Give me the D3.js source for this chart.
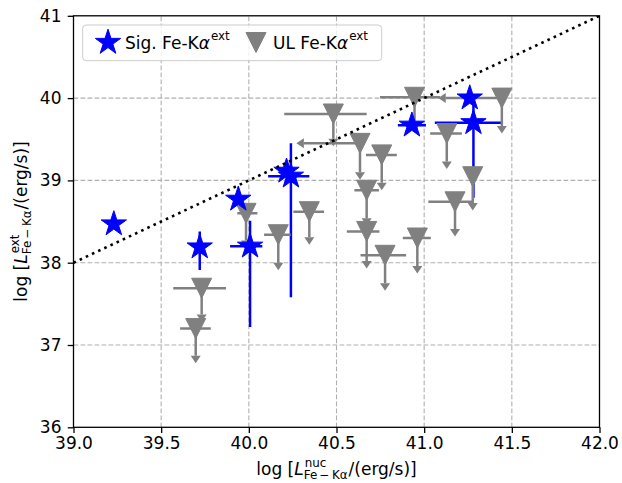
<!DOCTYPE html>
<html>
<head>
<meta charset="utf-8">
<script src="https://cdn.jsdelivr.net/npm/d3@7"></script>
<style>
body { margin: 0; background: #fff; }
text { font-family: "DejaVu Sans", sans-serif; fill: #000; }
</style>
</head>
<body>
<svg id="chart" width="622" height="483"></svg>
<script>
var width = 622, height = 483

// significant extended Fe-Ka detections
var sigX     = [39.23, 39.72, 39.94, 40.007, 40.215, 40.24, 40.93, 41.26, 41.281]
var sigY     = [38.47, 38.19, 38.77, 38.20, 39.11, 39.05, 39.67, 40.00, 39.70]
var sigXLo   = [0, 0, 0, 0.114, 0, 0.13, 0.08, 0, 0.22]
var sigXHi   = [0, 0, 0, 0.07, 0, 0.105, 0.08, 0, 0.16]
var sigYLo   = [0, 0.28, 0, 0.98, 0, 1.47, 0, 0, 0.91]
var sigYHi   = [0, 0.19, 0, 0.31, 0, 0.40, 0, 0, 0.25]

// upper limits
var ulX      = [40.482, 40.634, 40.758, 40.672, 40.672, 40.777, 40.961, 41.176, 41.277, 41.129, 41.443, 40.945, 39.984, 40.168, 40.345, 39.731, 39.697]
var ulY      = [39.807, 39.45, 39.31, 38.88, 38.38, 38.09, 38.30, 38.74, 39.045, 39.57, 40.00, 40.01, 38.60, 38.34, 38.62, 37.69, 37.20]
var ulXLo    = [0.28, 0, 0.09, 0.07, 0.113, 0.14, 0.083, 0.152, 0, 0.095, 0, 0.197, 0.05, 0.081, 0.091, 0.162, 0.089]
var ulXHi    = [0.19, 0, 0.086, 0.07, 0.073, 0.12, 0.077, 0.10, 0, 0.086, 0, 0.145, 0.065, 0.071, 0.084, 0.139, 0.086]
var ulXLim   = [0, 0.32, 0, 0, 0, 0, 0, 0, 0, 0, 0.32, 0, 0, 0, 0, 0, 0]
var ulYArrow = [0.30, 0.35, 0.34, 0.34, 0.36, 0.34, 0.34, 0.33, 0.32, 0.34, 0.34, 0.33, 0.33, 0.34, 0.31, 0.32, 0.33]

// one-to-one line
var lineX = [39, 42]
var lineY = [38, 41]

var xTicks = [39.0, 39.5, 40.0, 40.5, 41.0, 41.5, 42.0]
var yTicks = [36, 37, 38, 39, 40, 41]

var x = d3.scaleLinear().domain([39, 42]).range([73.5, 599.5])
var y = d3.scaleLinear().domain([36, 41]).range([427.3, 15.8])

var svg = d3.select('#chart')
var blue = '#0000ff', gray = '#808080'

svg.append('defs').append('clipPath').attr('id', 'plotclip')
  .append('rect').attr('x', x(39)).attr('y', y(41))
  .attr('width', x(42) - x(39)).attr('height', y(36) - y(41))

// grid
var grid = svg.append('g').attr('stroke', '#b0b0b0').attr('stroke-width', 1.1).attr('stroke-dasharray', '4.8,2.2')
grid.selectAll('.gx').data(xTicks.slice(1, -1)).enter().append('line')
  .attr('x1', d => x(d)).attr('x2', d => x(d)).attr('y1', y(36)).attr('y2', y(41))
grid.selectAll('.gy').data(yTicks.slice(1, -1)).enter().append('line')
  .attr('y1', d => y(d)).attr('y2', d => y(d)).attr('x1', x(39)).attr('x2', x(42))

var plot = svg.append('g').attr('clip-path', 'url(#plotclip)')

// error lines of the detections
var sigIdx = d3.range(sigX.length)
plot.selectAll('.sv').data(sigIdx.filter(i => sigYLo[i] + sigYHi[i] > 0)).enter().append('line')
  .attr('x1', i => x(sigX[i])).attr('x2', i => x(sigX[i]))
  .attr('y1', i => y(sigY[i] - sigYLo[i])).attr('y2', i => y(sigY[i] + sigYHi[i]))
  .attr('stroke', blue).attr('stroke-width', 2.5)
plot.selectAll('.sh').data(sigIdx.filter(i => sigXLo[i] + sigXHi[i] > 0)).enter().append('line')
  .attr('y1', i => y(sigY[i])).attr('y2', i => y(sigY[i]))
  .attr('x1', i => x(sigX[i] - sigXLo[i])).attr('x2', i => x(sigX[i] + sigXHi[i]))
  .attr('stroke', blue).attr('stroke-width', 2.5)

// upper limit error lines and arrows
var ulIdx = d3.range(ulX.length)
plot.selectAll('.uh').data(ulIdx.filter(i => ulXLo[i] + ulXHi[i] > 0)).enter().append('line')
  .attr('y1', i => y(ulY[i])).attr('y2', i => y(ulY[i]))
  .attr('x1', i => x(ulX[i] - ulXLo[i])).attr('x2', i => x(ulX[i] + ulXHi[i]))
  .attr('stroke', gray).attr('stroke-width', 2.5)
plot.selectAll('.ul').data(ulIdx.filter(i => ulXLim[i] > 0)).enter().append('line')
  .attr('y1', i => y(ulY[i])).attr('y2', i => y(ulY[i]))
  .attr('x1', i => x(ulX[i] - ulXLim[i])).attr('x2', i => x(ulX[i]))
  .attr('stroke', gray).attr('stroke-width', 2.5)
plot.selectAll('.ula').data(ulIdx.filter(i => ulXLim[i] > 0)).enter().append('path')
  .attr('transform', i => 'translate(' + x(ulX[i] - ulXLim[i]) + ',' + y(ulY[i]) + ')')
  .attr('d', 'M0,-5L-7.5,0L0,5Z').attr('fill', gray)
plot.selectAll('.uv').data(ulIdx).enter().append('line')
  .attr('x1', i => x(ulX[i])).attr('x2', i => x(ulX[i]))
  .attr('y1', i => y(ulY[i])).attr('y2', i => y(ulY[i] - ulYArrow[i]))
  .attr('stroke', gray).attr('stroke-width', 2.5)
plot.selectAll('.uva').data(ulIdx).enter().append('path')
  .attr('transform', i => 'translate(' + x(ulX[i]) + ',' + y(ulY[i] - ulYArrow[i]) + ')')
  .attr('d', 'M-5,0L5,0L0,7.5Z').attr('fill', gray)

// markers
var triPath = 'M-10,-10L10,-10L0,10Z'
var starPath = d3.symbol(d3.symbolStar, 199)()
plot.selectAll('.ut').data(ulIdx).enter().append('path')
  .attr('transform', i => 'translate(' + x(ulX[i]) + ',' + y(ulY[i]) + ')')
  .attr('d', triPath).attr('fill', gray).attr('stroke', gray).attr('stroke-width', 1)
plot.selectAll('.ss').data(sigIdx).enter().append('path')
  .attr('transform', i => 'translate(' + x(sigX[i]) + ',' + y(sigY[i]) + ')')
  .attr('d', starPath).attr('fill', blue).attr('stroke', blue).attr('stroke-width', 1)

// 1:1 line
plot.append('path')
  .attr('d', d3.line().x(d => x(d[0])).y(d => y(d[1]))(d3.zip(lineX, lineY)))
  .attr('fill', 'none').attr('stroke', '#000').attr('stroke-width', 2.6).attr('stroke-dasharray', '2.6,4.2')

// axes
var xAxis = svg.append('g').attr('transform', 'translate(0,' + y(36) + ')')
  .call(d3.axisBottom(x).tickValues(xTicks).tickFormat(d3.format('.1f')).tickSize(5.8).tickPadding(4.2))
var yAxis = svg.append('g').attr('transform', 'translate(' + x(39) + ',0)')
  .call(d3.axisLeft(y).tickValues(yTicks).tickFormat(d3.format('d')).tickSize(5.8).tickPadding(6.2))
;[xAxis, yAxis].forEach(function(a) {
  a.select('.domain').remove()
  a.selectAll('line').attr('stroke', '#000').attr('stroke-width', 1.3)
  a.selectAll('text').style('font-size', '17px')
})

svg.append('rect').attr('x', x(39)).attr('y', y(41))
  .attr('width', x(42) - x(39)).attr('height', y(36) - y(41))
  .attr('fill', 'none').attr('stroke', '#000').attr('stroke-width', 1.3)

// mathtext-like labels
function mathText(g, pieces, fs) {
  var inner = g.append('g'), cx = 0, sfs = fs * 0.7
  pieces.forEach(function(p) {
    if (p.t !== undefined) {
      var t = inner.append('text').attr('x', cx).attr('y', 0).style('font-size', fs + 'px')
        .style('font-style', p.it ? 'italic' : 'normal').text(p.t)
      cx += t.node().getComputedTextLength()
    } else {
      var w = 0
      if (p.sup) {
        var s = inner.append('text').attr('x', cx + 1).attr('y', -fs * 0.5).style('font-size', sfs + 'px').text(p.sup)
        w = Math.max(w, s.node().getComputedTextLength() + 1)
      }
      if (p.sub) {
        var b = inner.append('text').attr('x', cx).attr('y', fs * 0.25).style('font-size', sfs + 'px').text(p.sub)
        w = Math.max(w, b.node().getComputedTextLength())
      }
      cx += w + 1
    }
  })
  return {g: inner, w: cx}
}

var sub = 'Fe\u2009\u2212\u2009K\u03b1'
var xl = mathText(svg.append('g').attr('transform', 'translate(336.5,475)'),
  [{t: 'log ['}, {t: 'L', it: true}, {sup: 'nuc', sub: sub}, {t: '/(erg/s)]'}], 17)
xl.g.attr('transform', 'translate(' + (-xl.w / 2) + ',0)')

var yl = mathText(svg.append('g').attr('transform', 'translate(27,221.5) rotate(-90)'),
  [{t: 'log ['}, {t: 'L', it: true}, {sup: 'ext', sub: sub}, {t: '/(erg/s)]'}], 17)
yl.g.attr('transform', 'translate(' + (-yl.w / 2) + ',0)')

// legend
var leg = svg.append('g')
leg.append('rect').attr('x', 82.7).attr('y', 25).attr('width', 299).attr('height', 35.7).attr('rx', 3.5)
  .attr('fill', '#fff').attr('fill-opacity', 0.8).attr('stroke', '#cccccc').attr('stroke-width', 1)
leg.append('path').attr('transform', 'translate(108,42.5)').attr('d', starPath)
  .attr('fill', blue).attr('stroke', blue).attr('stroke-width', 1)
leg.append('path').attr('transform', 'translate(256,42.5)').attr('d', triPath)
  .attr('fill', gray).attr('stroke', gray).attr('stroke-width', 1)
mathText(leg.append('g').attr('transform', 'translate(125,48.5)'),
  [{t: 'Sig. Fe-K'}, {t: '\u03b1', it: true}, {sup: 'ext'}], 17)
mathText(leg.append('g').attr('transform', 'translate(273,48.5)'),
  [{t: 'UL Fe-K'}, {t: '\u03b1', it: true}, {sup: 'ext'}], 17)
</script>
</body>
</html>
